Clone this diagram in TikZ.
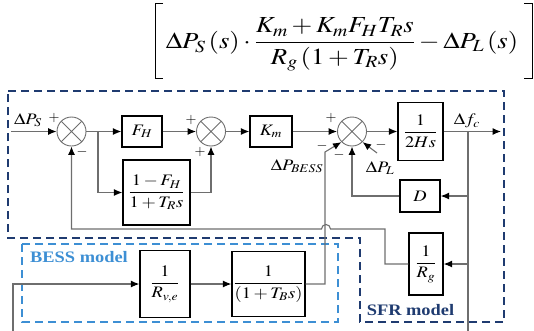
\documentclass[tikz,border=0pt]{standalone}
\usepackage{amsmath}
\usepackage{mathptmx}
\usepackage{fontspec}
\setmainfont{Liberation Serif}
\usepackage{graphicx}
\usetikzlibrary{arrows.meta}

\definecolor{wirec}{HTML}{6E6E6E}
\definecolor{sfrblue}{HTML}{1F3B70}
\definecolor{bessblue}{HTML}{3D8FD4}

% slightly widened lettering
\newcommand\hstretch[1]{\scalebox{1.15}[1]{#1}}

\begin{document}
\begin{tikzpicture}[x=1pt,y=-1pt,
  wire/.style={draw=wirec, line width=1.1pt},
  arr/.style={wire, -{Latex[length=8.5pt,width=7pt,color=black]}},
  blk/.style={draw=black, line width=1.3pt, fill=white, inner sep=0pt,
    font=\fontsize{16}{19}\selectfont},
  sumj/.style={circle, draw=wirec, line width=0.9pt, minimum size=29pt, inner sep=0pt,
    path picture={\draw[wirec, line width=0.8pt]
      (path picture bounding box.north west) -- (path picture bounding box.south east)
      (path picture bounding box.north east) -- (path picture bounding box.south west);}},
  lbl/.style={inner sep=0pt, font=\fontsize{16}{19}\selectfont},
  sgn/.style={inner sep=0pt, font=\fontsize{14}{16}\selectfont},
  frame/.style={line width=1.3pt, dash pattern=on 8pt off 5pt},
  brk/.style={draw=black, line width=1pt},
]
\useasboundingbox (0,0) rectangle (534,330);

% transfer function of the SFR loop, between square brackets
\node[inner sep=0pt, anchor=base] (eq) at (342,48.5) {\fontsize{23}{27}\selectfont\scalebox{1.16}[1]{$\displaystyle\Delta P_S\left(s\right)\cdot\frac{K_m+K_mF_HT_Rs}{R_g\left(1+T_Rs\right)}-\Delta P_L\left(s\right)$}};
\draw[brk] (163,3) -- (155,3) -- (155,78) -- (163,78);
\draw[brk] (524,3) -- (532,3) -- (532,78) -- (524,78);

% model frames
\draw[frame, draw=sfrblue] (8,91) -- (504,91) -- (504,322) -- (360,322) -- (360,238) -- (8,238) -- cycle;
\draw[frame, draw=bessblue] (22,244) rectangle (338,322);
\node[inner sep=0pt, text=bessblue, font=\fontsize{16}{19}\selectfont\bfseries] (bessl) at (79,257) {\hstretch{BESS model}};
\node[inner sep=0pt, text=sfrblue, font=\fontsize{16}{19}\selectfont\bfseries] (sfrl) at (410.5,310) {\hstretch{SFR model}};

% summing junctions
\node[sumj] (s1) at (71.5,131.5) {};
\node[sumj] (s2) at (211,131.5) {};
\node[sumj] (s3) at (352,131.5) {};

% blocks
\node[blk, minimum width=40pt, minimum height=31pt] (fh) at (142,131.5) {\hstretch{$F_H$}};
\node[blk, minimum width=67pt, minimum height=65pt] (lag) at (156.5,192.5) {\hstretch{$\dfrac{1-F_H}{1+T_Rs}$}};
\node[blk, minimum width=42pt, minimum height=31pt] (km) at (271,131.5) {\hstretch{$K_m$}};
\node[blk, minimum width=45pt, minimum height=58pt] (hs) at (420.5,131.5) {\hstretch{$\dfrac{1}{2Hs}$}};
\node[blk, minimum width=40pt, minimum height=32pt] (dd) at (420,196) {\hstretch{$D$}};
\node[blk, minimum width=34pt, minimum height=62pt] (rg) at (426,264) {\hstretch{$\dfrac{1}{R_g}$}};
\node[blk, minimum width=50pt, minimum height=67pt] (rve) at (165,284) {\hstretch{$\dfrac{1}{R_{v,e}}$}};
\node[blk, minimum width=73pt, minimum height=65pt] (tb) at (268.5,284) {\hstretch{$\dfrac{1}{\left(1+T_Bs\right)}$}};

% wiring points
\coordinate (in) at (11,131.5);
\coordinate (br) at (98,131.5);
\coordinate (fc) at (468,131.5);
\coordinate (out) at (501,131.5);
\coordinate (fcend) at (468,332);
\coordinate (pl) at (377,153);
\coordinate (bin) at (13,332);
\coordinate (bup) at (325,152);

% forward path
\draw[arr] (in) -- (s1.west);
\draw[arr] (s1.east) -- (fh.west);
\draw[arr] (br) |- (lag.west);
\draw[arr] (fh.east) -- (s2.west);
\draw[arr] (lag.east) -| (s2.south);
\draw[arr] (s2.east) -- (km.west);
\draw[arr] (km.east) -- (s3.west);
\draw[arr] (s3.east) -- (hs.west);
\draw[arr] (hs.east) -- (out);

% frequency feedback
\draw[wire] (fc) -- (fcend);
\draw[arr] (fc |- dd) -- (dd.east);
\draw[arr] (dd.west) -| (s3.south);
\draw[arr] (fc |- rg) -- (rg.east);
\draw[arr] (rg.west) -- (385,264) -- (385,229) -- (330.5,229)
  arc[start angle=0, end angle=180, radius=4.5pt] -- (71.5,229) -- (s1.south);
\draw[arr] (pl) -- (s3.-45);

% battery path
\draw[arr] (bin) |- (rve.west);
\draw[arr] (rve.east) -- (tb.west);
\draw[arr] (tb.east) -| (bup) -- (s3.-135);

% labels and signs
\node[lbl] (lps) at (28,120) {\hstretch{$\Delta P_S$}};
\node[lbl] (lfc) at (467,121) {\hstretch{$\Delta f_c$}};
\node[lbl] (lbess) at (297,166) {\hstretch{$\Delta P_{BESS}$}};
\node[lbl] (lpl) at (380,168) {\hstretch{$\Delta P_L$}};
\node[sgn] (p1) at (54,118) {$+$};
\node[sgn] (m1) at (82,152) {$-$};
\node[sgn] (p2) at (191,120) {$+$};
\node[sgn] (p3) at (200,152) {$+$};
\node[sgn] (p4) at (331,118) {$+$};
\node[sgn] (m2) at (322,146) {$-$};
\node[sgn] (m3) at (339,155) {$-$};
\node[sgn] (m4) at (381,145) {$-$};
\end{tikzpicture}
\end{document}
